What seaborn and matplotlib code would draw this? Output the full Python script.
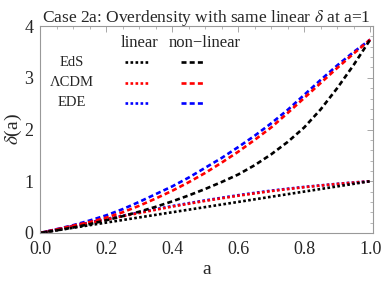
import numpy as np
import pandas as pd
import matplotlib
matplotlib.use("Agg")
import matplotlib.pyplot as plt
from matplotlib.ticker import MultipleLocator
import seaborn as sns

# values
a = [0.0, 0.05, 0.1, 0.15, 0.2, 0.25, 0.3, 0.35, 0.4, 0.45, 0.5,
     0.55, 0.6, 0.65, 0.7, 0.75, 0.8, 0.85, 0.9, 0.95, 1.0]
eds_lin = [0.0, 0.05, 0.1, 0.15, 0.2, 0.25, 0.3, 0.35, 0.4, 0.45, 0.5,
           0.55, 0.6, 0.65, 0.7, 0.75, 0.8, 0.85, 0.9, 0.95, 1.0]
lcdm_lin = [0.0, 0.065, 0.13, 0.195, 0.26, 0.323, 0.385, 0.448, 0.51, 0.565, 0.62,
            0.67, 0.72, 0.765, 0.81, 0.848, 0.885, 0.917, 0.947, 0.974, 1.0]
ede_lin = [0.0, 0.068, 0.135, 0.203, 0.27, 0.333, 0.395, 0.458, 0.52, 0.575, 0.63,
           0.68, 0.73, 0.775, 0.818, 0.855, 0.89, 0.92, 0.95, 0.976, 1.0]
eds_nl = [0.0, 0.051, 0.105, 0.17, 0.245, 0.325, 0.41, 0.505, 0.61, 0.725, 0.85,
          0.985, 1.13, 1.31, 1.52, 1.76, 2.04, 2.39, 2.80, 3.25, 3.74]
lcdm_nl = [0.0, 0.068, 0.14, 0.21, 0.295, 0.40, 0.525, 0.665, 0.815, 0.98, 1.16,
           1.36, 1.57, 1.80, 2.04, 2.32, 2.61, 2.90, 3.19, 3.47, 3.74]
ede_nl = [0.0, 0.073, 0.15, 0.24, 0.34, 0.46, 0.60, 0.75, 0.90, 1.07, 1.26,
          1.45, 1.66, 1.88, 2.12, 2.38, 2.67, 2.96, 3.24, 3.50, 3.74]

models = ["EdS", "\u039bCDM", "EDE"]
colors = ["black", "red", "blue"]

df = pd.DataFrame({"a": a,
                   "EdS_lin": eds_lin, "LCDM_lin": lcdm_lin, "EDE_lin": ede_lin,
                   "EdS_nl": eds_nl, "LCDM_nl": lcdm_nl, "EDE_nl": ede_nl})

sns.set_style("white")
plt.rcParams['font.family'] = ['Liberation Serif', 'DejaVu Serif']
plt.rcParams['mathtext.fontset'] = 'stix'

dot = (0, (1.0, 0.9))
dash = (0, (1.9, 1.2))
lw = 1.9

fig = plt.figure(figsize=(3.82, 2.81), dpi=100)
ax = fig.add_axes([0.105, 0.171, 0.871, 0.736])

keys = ["EDE", "LCDM", "EdS"]
cols = {"EdS": "black", "LCDM": "red", "EDE": "blue"}
for k in keys:
    sns.lineplot(data=df, x="a", y=k + "_lin", color=cols[k], linestyle=dot,
                 linewidth=lw, ax=ax)
for k in keys:
    sns.lineplot(data=df, x="a", y=k + "_nl", color=cols[k], linestyle=dash,
                 linewidth=lw, ax=ax)

ax.set_xlim(0, 1.008)
ax.set_ylim(0, 4)
ax.xaxis.set_major_locator(MultipleLocator(0.2))
ax.xaxis.set_minor_locator(MultipleLocator(0.05))
ax.yaxis.set_major_locator(MultipleLocator(1))
ax.yaxis.set_minor_locator(MultipleLocator(0.2))
ax.set_xticks([0.0, 0.2, 0.4, 0.6, 0.8, 1.0])
ax.set_xticklabels(["0.0", "0.2", "0.4", "0.6", "0.8", "1.0"])
ax.tick_params(which="both", direction="in", top=True, right=True,
               color="#999999", labelsize=13)
ax.tick_params(axis="x", pad=6)
ax.tick_params(axis="y", pad=5)
ax.tick_params(which="major", length=4, width=0.6)
ax.tick_params(which="minor", length=2, width=0.5)
for s in ax.spines.values():
    s.set_color("#999999")
    s.set_linewidth(0.8)

ax.set_xlabel("a", fontsize=14, labelpad=2)
ax.set_ylabel(r"$\delta$(a)", fontsize=14, labelpad=0)
ax.set_title(r"Case 2a: Overdensity with same linear $\delta$ at a=1",
             fontsize=12.5, pad=3)

# legend table
ax.text(0.299, 0.918, "linear", transform=ax.transAxes, fontsize=12,
        ha="center", va="center")
ax.text(0.495, 0.918, "non\u2212linear", transform=ax.transAxes, fontsize=12,
        ha="center", va="center")
rows_y = [0.826, 0.726, 0.629]
for name, c, yy in zip(models, colors, rows_y):
    ax.text(0.096, yy, name, transform=ax.transAxes, fontsize=10.5,
            ha="center", va="center")
    ax.plot([0.255, 0.33], [yy, yy], transform=ax.transAxes, color=c,
            linestyle=dot, linewidth=lw)
    ax.plot([0.423, 0.497], [yy, yy], transform=ax.transAxes, color=c,
            linestyle=dash, linewidth=lw)

fig.savefig("out.png", dpi=100)
